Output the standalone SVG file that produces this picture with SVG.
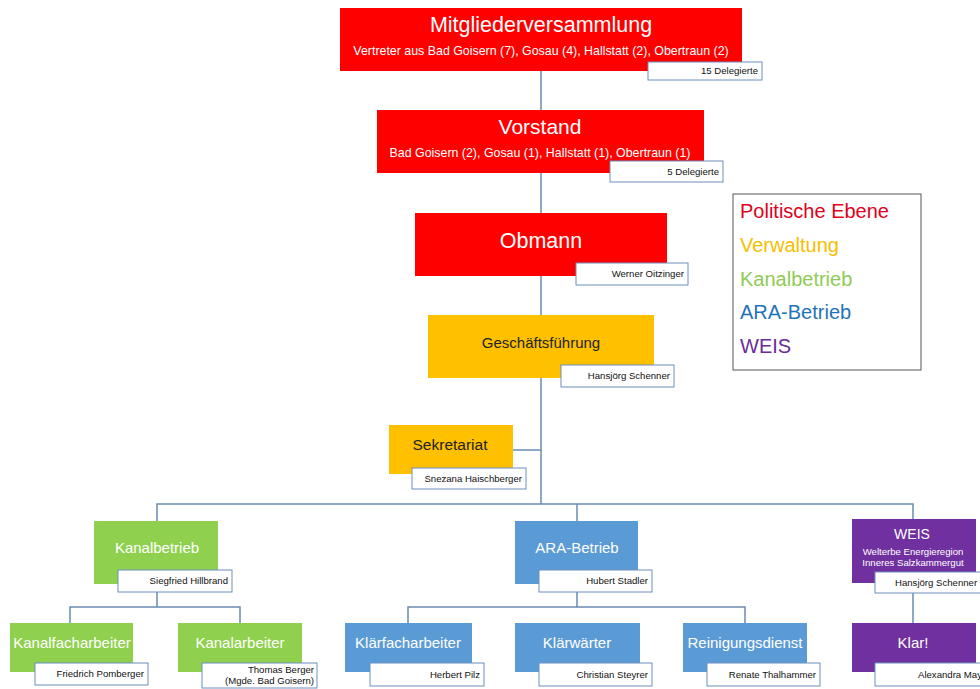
<svg xmlns="http://www.w3.org/2000/svg" width="980" height="689" viewBox="0 0 980 689">
<style>
text{font-family:"Liberation Sans",Arial,sans-serif}
.red{fill:#FF0000}
.org{fill:#FFC000}
.grn{fill:#8FD14F}
.blu{fill:#5B9BD5}
.pur{fill:#7030A0}
.nb{fill:#FFFFFF;stroke:#6C8EBF;stroke-width:1}
.nt{font-size:9.6px;fill:#111;text-anchor:end}
.t{fill:#FFFFFF;text-anchor:middle}
.d{fill:#222;text-anchor:middle}
.con{stroke:#6A8BB0;stroke-width:1.5;fill:none}
</style>
<rect width="980" height="689" fill="#FFFFFF"/>
<g id="connectors" class="con">
<path d="M541 71V504"/>
<path d="M513 450H541"/>
<path d="M157 521V504H913V520"/>
<path d="M577 504V521"/>
<path d="M157 592V607M70 623V607H240V623"/>
<path d="M577 592V607M408 623V607H745V623"/>
<path d="M913 592V623"/>
</g>
<g id="mitgliederversammlung">
<rect class="red" x="340" y="8" width="402" height="63"/>
<text class="t" x="541" y="32" font-size="21.5">Mitgliederversammlung</text>
<text class="t" x="541" y="55" font-size="12.4">Vertreter aus Bad Goisern (7), Gosau (4), Hallstatt (2), Obertraun (2)</text>
<rect class="nb" x="648" y="62" width="114" height="18"/>
<text class="nt" x="758" y="74">15 Delegierte</text>
</g>
<g id="vorstand">
<rect class="red" x="377" y="110" width="327" height="63"/>
<text class="t" x="540" y="134" font-size="21">Vorstand</text>
<text class="t" x="540" y="157" font-size="12.4">Bad Goisern (2), Gosau (1), Hallstatt (1), Obertraun (1)</text>
<rect class="nb" x="610" y="161" width="113" height="21"/>
<text class="nt" x="719" y="175">5 Delegierte</text>
</g>
<g id="obmann">
<rect class="red" x="415" y="213" width="252" height="63"/>
<text class="t" x="541" y="248" font-size="21.5">Obmann</text>
<rect class="nb" x="576" y="263" width="112" height="22"/>
<text class="nt" x="684" y="277">Werner Oitzinger</text>
</g>
<g id="geschaeftsfuehrung">
<rect class="org" x="428" y="315" width="226" height="63"/>
<text class="d" x="541" y="348" font-size="15">Geschäftsführung</text>
<rect class="nb" x="561" y="365" width="113" height="22"/>
<text class="nt" x="670" y="379">Hansjörg Schenner</text>
</g>
<g id="sekretariat">
<rect class="org" x="389" y="425" width="124" height="49"/>
<text class="d" x="450" y="450" font-size="15.5">Sekretariat</text>
<rect class="nb" x="412" y="468" width="114" height="21"/>
<text class="nt" x="522" y="482">Snezana Haischberger</text>
</g>
<g id="legende">
<rect x="733" y="194" width="188" height="176" fill="#FFFFFF" stroke="#555" stroke-width="1"/>
<text x="740" y="218" font-size="20" fill="#E2001A">Politische Ebene</text>
<text x="740" y="252" font-size="20" fill="#F5C000">Verwaltung</text>
<text x="740" y="286" font-size="20" fill="#8FCB55">Kanalbetrieb</text>
<text x="740" y="319" font-size="20" fill="#1F74B8">ARA-Betrieb</text>
<text x="740" y="353" font-size="20" fill="#6A2C95">WEIS</text>
</g>
<g id="kanalbetrieb">
<rect class="grn" x="94" y="521" width="124" height="63"/>
<text class="t" x="157" y="553" font-size="15">Kanalbetrieb</text>
<rect class="nb" x="118" y="570" width="114" height="22"/>
<text class="nt" x="228" y="584">Siegfried Hillbrand</text>
</g>
<g id="ara-betrieb">
<rect class="blu" x="515" y="521" width="123" height="63"/>
<text class="t" x="577" y="553" font-size="15">ARA-Betrieb</text>
<rect class="nb" x="539" y="570" width="113" height="22"/>
<text class="nt" x="648" y="584">Hubert Stadler</text>
</g>
<g id="weis">
<rect class="pur" x="852" y="519" width="124" height="64"/>
<text class="t" x="912" y="539" font-size="14">WEIS</text>
<text class="t" x="913" y="555" font-size="9.6">Welterbe Energieregion</text>
<text class="t" x="913" y="566" font-size="9.6">Inneres Salzkammergut</text>
<rect class="nb" x="875" y="572" width="120" height="21"/>
<text x="895" y="586" font-size="9.6" fill="#111">Hansjörg Schenner</text>
</g>
<g id="kanalfacharbeiter">
<rect class="grn" x="10" y="623" width="123" height="49"/>
<text class="t" x="72" y="648" font-size="15">Kanalfacharbeiter</text>
<rect class="nb" x="35" y="663" width="113" height="22"/>
<text class="nt" x="144" y="677">Friedrich Pomberger</text>
</g>
<g id="kanalarbeiter">
<rect class="grn" x="178" y="623" width="124" height="49"/>
<text class="t" x="240" y="648" font-size="15">Kanalarbeiter</text>
<rect class="nb" x="202" y="663" width="115" height="25"/>
<text class="nt" x="314" y="673">Thomas Berger</text>
<text class="nt" x="314" y="684">(Mgde. Bad Goisern)</text>
</g>
<g id="klaerfacharbeiter">
<rect class="blu" x="345" y="623" width="127" height="49"/>
<text class="t" x="408" y="648" font-size="15">Klärfacharbeiter</text>
<rect class="nb" x="370" y="663" width="114" height="23"/>
<text class="nt" x="480" y="678">Herbert Pilz</text>
</g>
<g id="klaerwaerter">
<rect class="blu" x="515" y="623" width="125" height="49"/>
<text class="t" x="577" y="648" font-size="15">Klärwärter</text>
<rect class="nb" x="539" y="663" width="113" height="23"/>
<text class="nt" x="648" y="678">Christian Steyrer</text>
</g>
<g id="reinigungsdienst">
<rect class="blu" x="683" y="623" width="124" height="49"/>
<text class="t" x="745" y="648" font-size="15">Reinigungsdienst</text>
<rect class="nb" x="707" y="663" width="113" height="23"/>
<text class="nt" x="816" y="678">Renate Thalhammer</text>
</g>
<g id="klar">
<rect class="pur" x="852" y="623" width="124" height="49"/>
<text class="t" x="913" y="648" font-size="15">Klar!</text>
<rect class="nb" x="875" y="663" width="120" height="23"/>
<text x="918" y="678" font-size="9.6" fill="#111">Alexandra Mayr</text>
</g>
</svg>
